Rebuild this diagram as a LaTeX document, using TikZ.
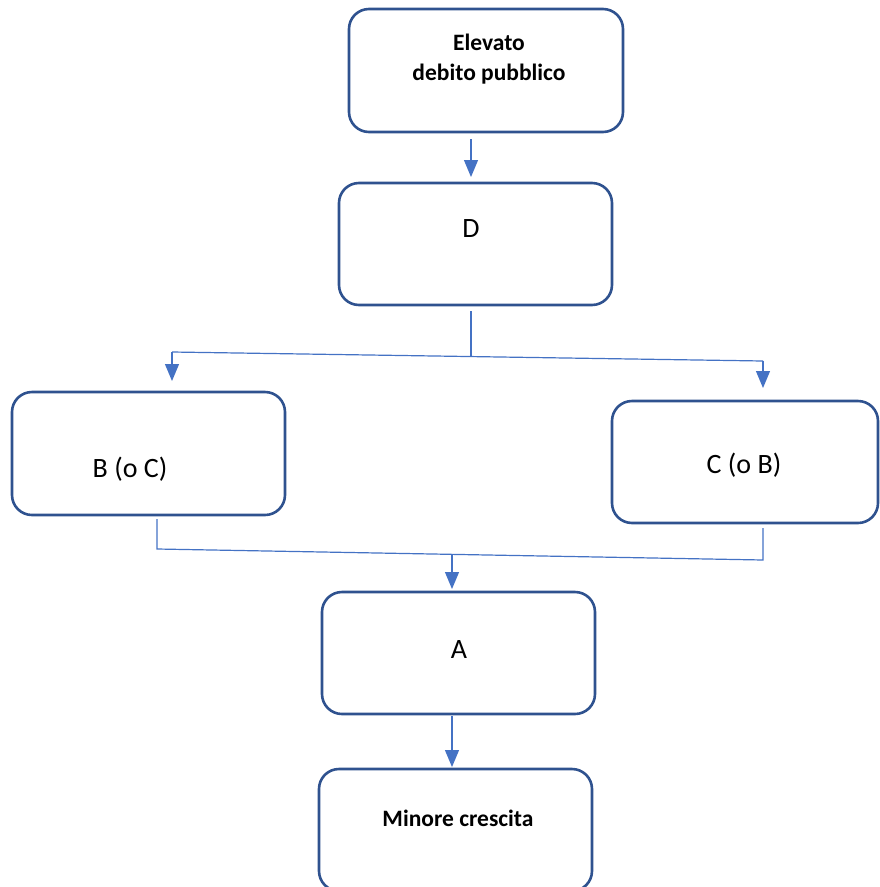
\documentclass[tikz,border=0pt]{standalone}
\usepackage{fontspec}
\setmainfont{Carlito}
\usetikzlibrary{arrows.meta}

\definecolor{boxline}{RGB}{47,82,143}
\definecolor{linkline}{RGB}{68,114,196}

\tikzset{
  box/.style={draw=boxline, line width=2.6, rounded corners=20, minimum width=273, minimum height=122, inner sep=0},
  txt/.style={font=\fontsize{28}{32}\selectfont},
  btxt/.style={font=\bfseries\fontsize{23.5}{30}\selectfont, align=center},
  link/.style={draw=linkline, line width=1.2},
  tip/.style={link, -{Triangle[length=17,width=14]}}
}

\begin{document}
\begin{tikzpicture}[x=1pt,y=-1pt]
\useasboundingbox (0,0) rectangle (880,887);

%Boxes
\node [box, minimum width=274, minimum height=123] (elevato) at (486,70.5) {};
\node [box] (d) at (475.5,244) {};
\node [box, minimum height=123] (bc) at (148.5,453.5) {};
\node [box, minimum width=266] (cb) at (745,462) {};
\node [box] (a) at (458.5,653) {};
\node [box] (minore) at (455.5,830) {};

% Text Node
\node [btxt] (t1) at (489,59) {Elevato\\debito pubblico};
\node [txt] (t2) at (471,229) {D};
\node [txt] (t3) at (130,469) {B (o C)};
\node [txt] (t4) at (744,465) {C (o B)};
\node [txt] (t5) at (459,650) {A};
\node [btxt] (t6) at (458,818) {Minore crescita};

%Connectors
\coordinate (p1) at (471,139);
\coordinate (p2) at (471,177);
\draw [tip] (p1) -- (p2);

\coordinate (q1) at (471,311);
\coordinate (q2) at (471,357);
\coordinate (ql) at (172,352);
\coordinate (qr) at (763,361);
\coordinate (qlb) at (172,381);
\coordinate (qrb) at (763,388);
\draw [link] (q1) -- (q2);
\draw [link] (ql) -- (qr);
\draw [tip] (ql) -- (qlb);
\draw [tip] (qr) -- (qrb);

\coordinate (r1) at (157,519);
\coordinate (rl) at (157,549);
\coordinate (r2) at (763,528);
\coordinate (rr) at (763,560);
\coordinate (rm) at (452,555);
\coordinate (rmb) at (452,589);
\draw [link] (r1) -- (rl) -- (rr) -- (r2);
\draw [tip] (rm) -- (rmb);

\coordinate (s1) at (452,716);
\coordinate (s2) at (452,767);
\draw [tip] (s1) -- (s2);

\end{tikzpicture}
\end{document}
